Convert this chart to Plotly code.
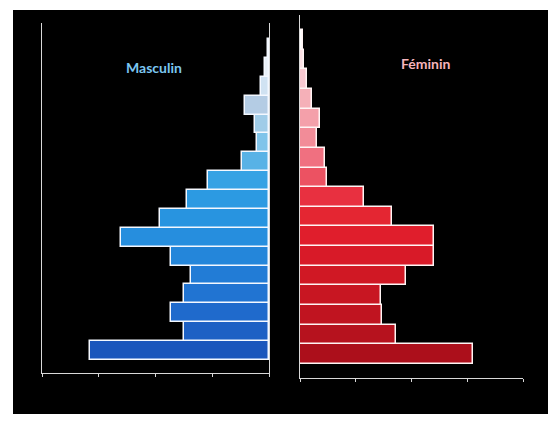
import plotly.graph_objects as go

age_groups = ["0-4", "5-9", "10-14", "15-19", "20-24", "25-29", "30-34", "35-39",
              "40-44", "45-49", "50-54", "55-59", "60-64", "65-69", "70-74", "75-79", "80+"]
male = [6.3, 3.0, 3.45, 3.0, 2.75, 3.45, 5.2, 3.85, 2.9, 2.15, 0.95, 0.42, 0.5, 0.85, 0.28, 0.14, 0.04]
female = [6.2, 3.45, 2.95, 2.9, 3.8, 4.8, 4.8, 3.3, 2.3, 0.97, 0.9, 0.6, 0.72, 0.43, 0.25, 0.14, 0.1]
title_male = "Masculin"
title_female = "Féminin"

male_colors = ["#1a56bc", "#1d60c4", "#1f6acc", "#2174d2", "#227cd6", "#2486da", "#268ede",
               "#2894e0", "#2c9ae2", "#36a2e4", "#58b2e6", "#80c4ea", "#a0cce8", "#b4cce4",
               "#d0e2f2", "#e8f0f8", "#ffffff"]
female_colors = ["#ac0f1b", "#b6121e", "#c01420", "#c81622", "#d01824", "#d81a28", "#e01e2c",
                 "#e42632", "#e83040", "#ec5262", "#f07080", "#f28c98", "#f4a0aa", "#f5b0b8",
                 "#f8c8d0", "#fbe0e4", "#ffffff"]

W, H = 557, 421
fig = go.Figure()
fig.add_trace(go.Bar(y=age_groups, x=male, orientation="h", xaxis="x", yaxis="y",
                     marker=dict(color=male_colors, line=dict(color="#f4f8ff", width=1.5)),
                     showlegend=False))
fig.add_trace(go.Bar(y=age_groups, x=female, orientation="h", xaxis="x2", yaxis="y2",
                     marker=dict(color=female_colors, line=dict(color="#fff4f4", width=1.5)),
                     showlegend=False))

axis_col = "#d8d8d8"
fig.update_layout(
    width=W, height=H,
    margin=dict(l=0, r=0, t=0, b=0),
    paper_bgcolor="white", plot_bgcolor="rgba(0,0,0,0)",
    bargap=0,
    xaxis=dict(domain=[42 / W, 269 / W], range=[8, 0], anchor="y",
               showline=True, linecolor=axis_col, linewidth=1,
               ticks="outside", tickcolor=axis_col, ticklen=3, dtick=2,
               showticklabels=False, showgrid=False, zeroline=False),
    yaxis=dict(domain=[1 - 373 / H, 1 - 23 / H], range=[-1.19, 17.35], anchor="x",
               type="category", showline=True, mirror=True, linecolor=axis_col, linewidth=1,
               showticklabels=False, showgrid=False, zeroline=False, ticks=""),
    xaxis2=dict(domain=[300 / W, 523 / W], range=[0, 8], anchor="y2",
                showline=True, linecolor=axis_col, linewidth=1,
                ticks="outside", tickcolor=axis_col, ticklen=3, dtick=2,
                showticklabels=False, showgrid=False, zeroline=False),
    yaxis2=dict(domain=[1 - 378 / H, 1 - 15 / H], range=[-1.21, 17.26], anchor="x2",
                type="category", showline=True, linecolor=axis_col, linewidth=1,
                showticklabels=False, showgrid=False, zeroline=False, ticks=""),
    shapes=[dict(type="rect", xref="paper", yref="paper", layer="below",
                 x0=13 / W, x1=548 / W, y0=1 - 414 / H, y1=1 - 10 / H,
                 fillcolor="#000000", line=dict(width=0))],
    annotations=[
        dict(text="<b>" + title_male + "</b>", xref="paper", yref="paper",
             x=154 / W, y=1 - 68 / H, xanchor="center", yanchor="middle",
             showarrow=False, font=dict(family="Lato", size=14, color="#7cc6f0")),
        dict(text="<b>" + title_female + "</b>", xref="paper", yref="paper",
             x=426 / W, y=1 - 63 / H, xanchor="center", yanchor="middle",
             showarrow=False, font=dict(family="Lato", size=14, color="#f6b4bc")),
    ],
)

fig.write_html("out.html", config={"displayModeBar": False},
               post_script="document.body.style.margin='0px';")
